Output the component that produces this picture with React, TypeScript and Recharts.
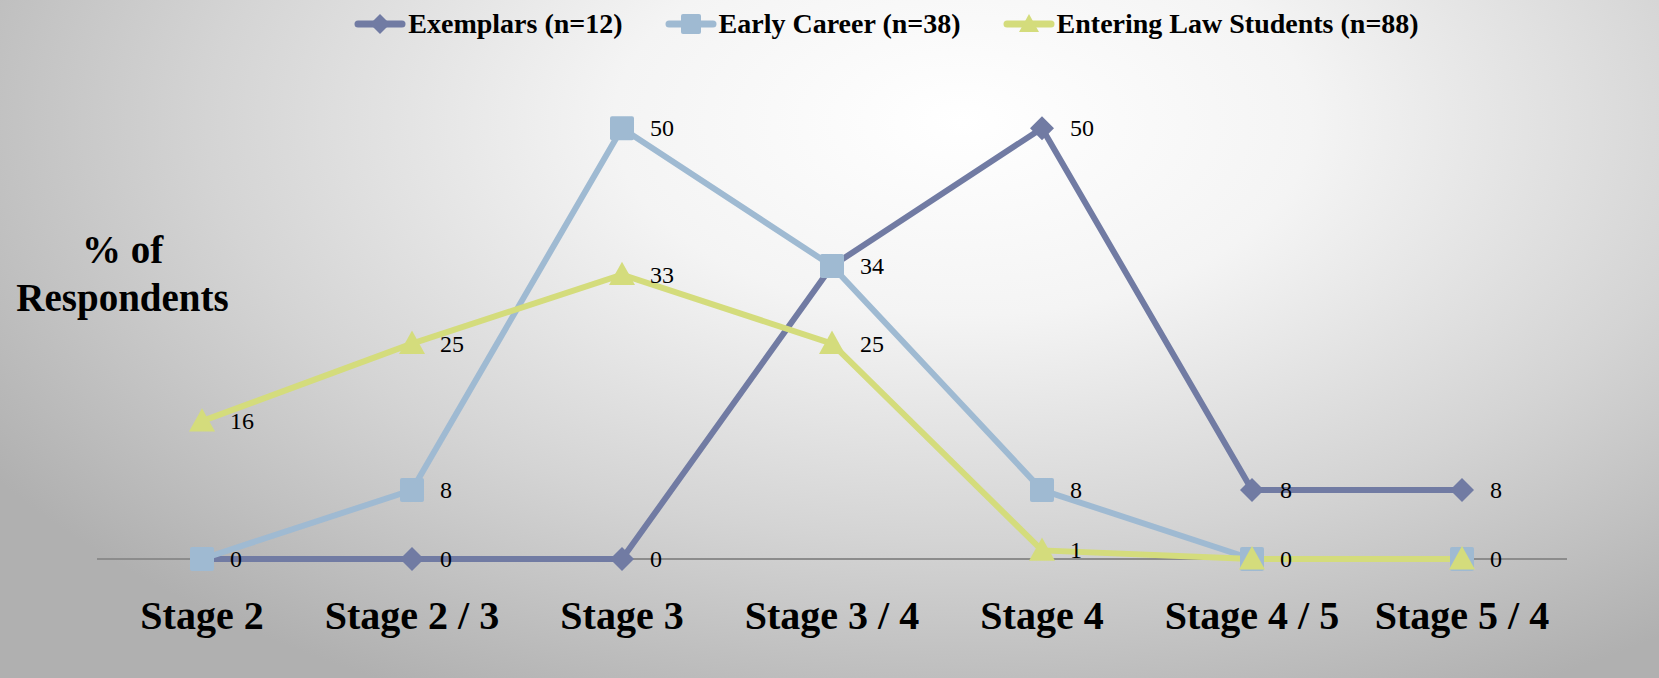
import React from 'react';
import { LineChart, Line, XAxis, YAxis, LabelList, ReferenceLine } from 'recharts';

const stages = ['Stage 2', 'Stage 2 / 3', 'Stage 3', 'Stage 3 / 4', 'Stage 4', 'Stage 4 / 5', 'Stage 5 / 4'];
const exemplars = [0, 0, 0, 34, 50, 8, 8];
const earlyCareer = [0, 8, 50, 34, 8, 0, 0];
const enteringStudents = [16, 25, 33, 25, 1, 0, 0];

const data = stages.map((stage, i) => ({
  stage,
  exemplars: exemplars[i],
  early: earlyCareer[i],
  entering: enteringStudents[i],
}));

const COLORS = { exemplars: '#717ba3', early: '#9fbad2', entering: '#d4dc7c' };
const SERIF = '"Liberation Serif", "Times New Roman", serif';

const Diamond = ({ cx, cy, fill, size = 12 }: any) => (
  <polygon points={`${cx},${cy - size} ${cx + size},${cy} ${cx},${cy + size} ${cx - size},${cy}`} fill={fill} />
);
const Square = ({ cx, cy, fill, size = 12 }: any) => (
  <rect x={cx - size} y={cy - size} width={size * 2} height={size * 2} rx={2} fill={fill} />
);
const Triangle = ({ cx, cy, fill, size = 13 }: any) => (
  <polygon points={`${cx},${cy - size} ${cx + size},${cy + size * 0.8} ${cx - size},${cy + size * 0.8}`} fill={fill} />
);

const legendItems = [
  { label: 'Exemplars (n=12)', color: COLORS.exemplars, Marker: Diamond },
  { label: 'Early Career (n=38)', color: COLORS.early, Marker: Square },
  { label: 'Entering Law Students (n=88)', color: COLORS.entering, Marker: Triangle },
];

const StageTick = ({ x, y, payload }: any) => (
  <text x={x} y={y + 62} textAnchor="middle" fontFamily={SERIF} fontWeight="bold" fontSize={40} fill="#000">
    {payload.value}
  </text>
);

// a value label to the right of each point; skip duplicates that sit on the same spot
const valueLabel = (skip: number[]) => (props: any) => {
  const { x, y, value, index } = props;
  if (skip.includes(index)) return null;
  return (
    <text x={x + 28} y={y} dy={8} fontFamily={SERIF} fontSize={24} fill="#000">
      {value}
    </text>
  );
};

const App = () => {
  return (
    <div
      style={{
        position: 'absolute',
        left: 0,
        top: 0,
        width: 1659,
        height: 678,
        overflow: 'hidden',
        background: 'radial-gradient(ellipse 70% 95% at 58% 18%, #ffffff 0%, #f4f4f4 30%, #d4d4d4 65%, #b0b0b0 100%)',
      }}
    >
      <div
        style={{
          position: 'absolute',
          top: 8,
          left: 0,
          width: 1659,
          display: 'flex',
          justifyContent: 'center',
          gap: 42,
          paddingLeft: 114,
          boxSizing: 'border-box',
          fontFamily: SERIF,
          fontWeight: 'bold',
          fontSize: 28,
        }}
      >
        {legendItems.map(({ label, color, Marker }) => (
          <div key={label} style={{ display: 'flex', alignItems: 'center' }}>
            <svg width={52} height={30}>
              <line x1={4} y1={15} x2={48} y2={15} stroke={color} strokeWidth={7} strokeLinecap="round" />
              <Marker cx={26} cy={15} fill={color} size={10} />
            </svg>
            <span style={{ marginLeft: 2 }}>{label}</span>
          </div>
        ))}
      </div>
      <div
        style={{
          position: 'absolute',
          left: 0,
          top: 226,
          width: 245,
          textAlign: 'center',
          fontFamily: SERIF,
          fontWeight: 'bold',
          fontSize: 39,
          lineHeight: '48px',
        }}
      >
        % of
        <br />
        Respondents
      </div>
      <LineChart
        width={1659}
        height={678}
        data={data}
        margin={{ top: 42, right: 92, bottom: 59, left: 97 }}
        style={{ position: 'absolute', left: 0, top: 0 }}
      >
        <XAxis
          dataKey="stage"
          height={60}
          axisLine={false}
          tickLine={false}
          tick={<StageTick />}
          interval={0}
          padding={{ left: 105, right: 105 }}
        />
        <YAxis hide domain={[0, 60]} />
        <ReferenceLine y={0} stroke="#8c8c8c" strokeWidth={2} />
        <Line
          dataKey="exemplars"
          stroke={COLORS.exemplars}
          strokeWidth={6}
          isAnimationActive={false}
          dot={(p: any) => <Diamond key={`d${p.index}`} cx={p.cx} cy={p.cy} fill={COLORS.exemplars} />}
          activeDot={false}
        >
          <LabelList dataKey="exemplars" content={valueLabel([3])} />
        </Line>
        <Line
          dataKey="early"
          stroke={COLORS.early}
          strokeWidth={6}
          isAnimationActive={false}
          dot={(p: any) => <Square key={`s${p.index}`} cx={p.cx} cy={p.cy} fill={COLORS.early} />}
          activeDot={false}
        >
          <LabelList dataKey="early" content={valueLabel([0, 5, 6])} />
        </Line>
        <Line
          dataKey="entering"
          stroke={COLORS.entering}
          strokeWidth={6}
          isAnimationActive={false}
          dot={(p: any) => <Triangle key={`t${p.index}`} cx={p.cx} cy={p.cy} fill={COLORS.entering} />}
          activeDot={false}
        >
          <LabelList dataKey="entering" content={valueLabel([])} />
        </Line>
      </LineChart>
    </div>
  );
};

export default App;
